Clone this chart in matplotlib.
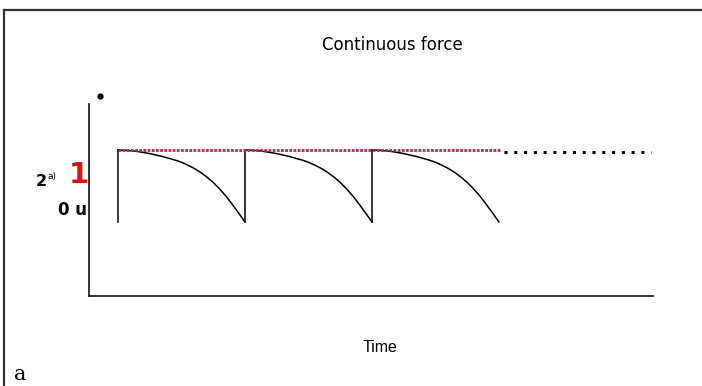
import matplotlib
matplotlib.use("Agg")
import matplotlib.pyplot as plt
from matplotlib.lines import Line2D

# --- data ---
cycle_starts = [0, 1, 2]                      # start time of each force cycle
decay_t = [0.0, 0.05, 0.1, 0.15, 0.2, 0.25, 0.3, 0.35, 0.4, 0.45, 0.5, 0.55,
           0.6, 0.65, 0.7, 0.75, 0.8, 0.85, 0.9, 0.95, 1.0]   # fraction of cycle
decay_y = [1.0, 0.997, 0.99, 0.98, 0.966, 0.95, 0.93, 0.91, 0.885, 0.86, 0.83,
           0.79, 0.745, 0.69, 0.625, 0.55, 0.46, 0.36, 0.245, 0.125, 0.0]
target_level = 1.0
target_span = [0, 3.02]
continuation_span = [3.04, 4.2]
title_text = "Continuous force"
xlabel_text = "Time"

fig = plt.figure(figsize=(7.02, 3.86), dpi=100)
W, H = 702, 386

# axes placed in pixel terms
left, right, top, bottom = 89, 653, 104, 296
ax = fig.add_axes([left / W, 1 - bottom / H, (right - left) / W, (bottom - top) / H])
ax.set_xlim(-0.228, 4.213)
ax.set_ylim(-1.028, 1.639)
for s in ["top", "right"]:
    ax.spines[s].set_visible(False)
for s in ["left", "bottom"]:
    ax.spines[s].set_linewidth(1.3)
    ax.spines[s].set_color("#222222")
ax.set_xticks([])
ax.set_yticks([])

# sawtooth force curve
for c in cycle_starts:
    xs = [c + t for t in decay_t]
    ax.plot([c, c], [0, decay_y[0]], color="black", lw=1.1)
    ax.plot(xs, decay_y, color="black", lw=1.1, solid_joinstyle="round")

# target dotted lines
ax.plot(target_span, [target_level, target_level], color="#b22a55", lw=2.0,
        linestyle=(0, (1, 0.5)))
ax.plot(continuation_span, [target_level * 0.97] * 2, color="black", lw=2.2,
        linestyle=(0, (1, 2.2)))

# small dot above the axis
ax.plot([-0.142], [1.75], "o", color="black", ms=3.5, clip_on=False)

# figure frame (top + left)
fig.add_artist(Line2D([4 / W, 1], [1 - 10 / H, 1 - 10 / H], color="#333333", lw=1.6))
fig.add_artist(Line2D([4 / W, 4 / W], [0, 1 - 10 / H], color="#333333", lw=1.6))

# texts
fig.text(392 / W, 1 - 45 / H, title_text, ha="center", va="center", fontsize=12,
         family="DejaVu Sans")
fig.text(380 / W, 1 - 348 / H, xlabel_text, ha="center", va="center", fontsize=11.5,
         family=["Liberation Sans Narrow", "Liberation Sans", "DejaVu Sans"])
fig.text(20 / W, 1 - 374 / H, "a", ha="center", va="center", fontsize=15,
         family="DejaVu Serif")
fig.text(41 / W, 1 - 181 / H, "2", ha="center", va="center", fontsize=11.5,
         fontweight="bold", family="DejaVu Sans")
fig.text(52 / W, 1 - 176 / H, "a)", ha="center", va="center", fontsize=6.5,
         family="DejaVu Sans")
fig.text(79 / W, 1 - 175 / H, "1", ha="center", va="center", fontsize=21,
         fontweight="bold", color="#dd1111", family="DejaVu Sans")
fig.text(72 / W, 1 - 210 / H, "0 u", ha="center", va="center", fontsize=12,
         fontweight="bold", family="DejaVu Sans")

fig.savefig("out.png", dpi=100)
